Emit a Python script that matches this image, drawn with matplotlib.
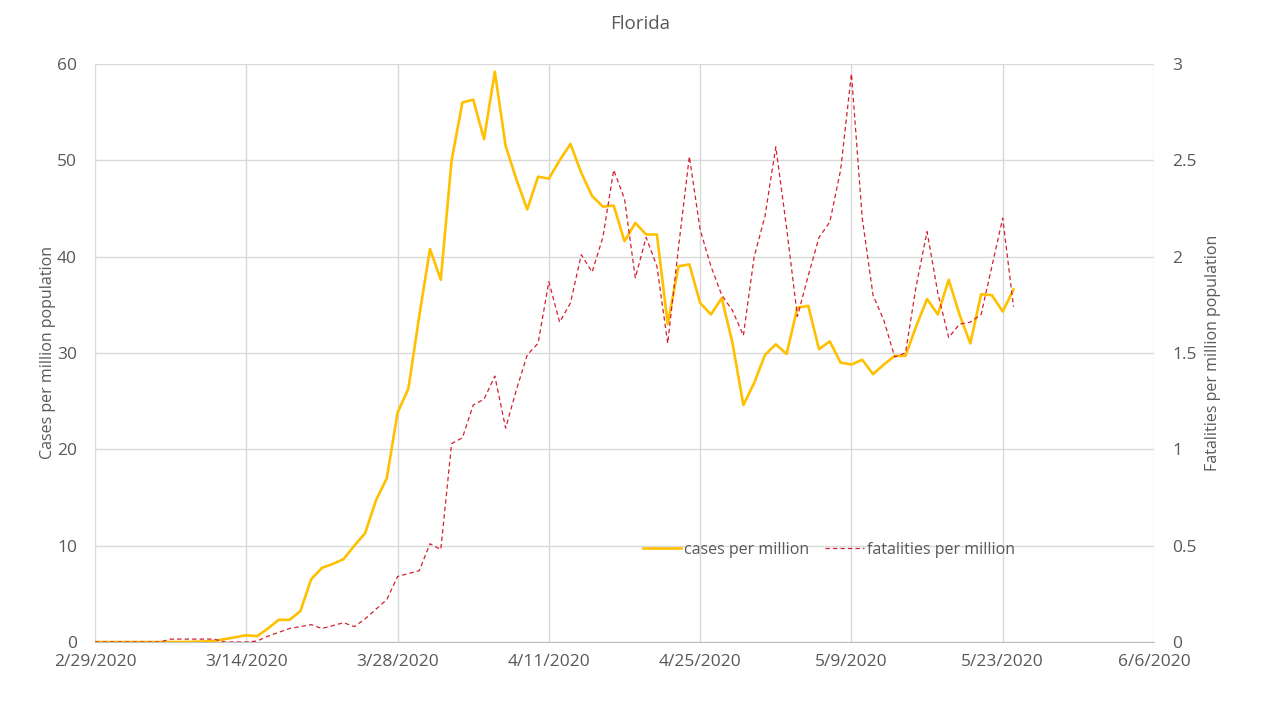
import matplotlib
matplotlib.use("Agg")
import matplotlib.pyplot as plt
import pandas as pd

title = "Florida"
start_date = "2020-02-29"
cases_per_million = [
    0, 0, 0, 0, 0, 0, 0, 0, 0, 0.02,
    0.05, 0.1, 0.3, 0.5, 0.7, 0.6, 1.4, 2.3, 2.3, 3.2,
    6.5, 7.7, 8.1, 8.6, 10.0, 11.3, 14.7, 17.0, 23.8, 26.3,
    33.8, 40.8, 37.6, 50.0, 56.0, 56.3, 52.2, 59.2, 51.5, 48.0,
    44.9, 48.3, 48.1, 50.0, 51.7, 48.7, 46.3, 45.2, 45.3, 41.6,
    43.5, 42.3, 42.3, 33.0, 39.0, 39.2, 35.2, 34.0, 35.7, 31.0,
    24.6, 26.9, 29.8, 30.9, 29.9, 34.7, 34.9, 30.4, 31.2, 29.0,
    28.8, 29.3, 27.8, 28.8, 29.7, 29.7, 32.8, 35.6, 34.0, 37.6,
    34.0, 31.0, 36.1, 36.0, 34.3, 36.6,
]
fatalities_per_million = [
    0, 0, 0, 0, 0, 0, 0, 0.015, 0.015, 0.015,
    0.015, 0.015, 0, 0, 0, 0.005, 0.03, 0.05, 0.07, 0.08,
    0.09, 0.07, 0.085, 0.10, 0.08, 0.12, 0.17, 0.22, 0.34, 0.355,
    0.37, 0.51, 0.48, 1.03, 1.06, 1.23, 1.26, 1.38, 1.11, 1.31,
    1.49, 1.55, 1.87, 1.66, 1.76, 2.01, 1.92, 2.10, 2.45, 2.30,
    1.89, 2.10, 1.95, 1.55, 2.05, 2.52, 2.14, 1.95, 1.80, 1.72,
    1.59, 2.00, 2.21, 2.57, 2.15, 1.69, 1.90, 2.10, 2.18, 2.45,
    2.95, 2.20, 1.80, 1.67, 1.48, 1.50, 1.85, 2.13, 1.81, 1.58,
    1.65, 1.66, 1.70, 1.95, 2.20, 1.74,
]
x_tick_dates = ["2020-02-29", "2020-03-14", "2020-03-28", "2020-04-11",
                "2020-04-25", "2020-05-09", "2020-05-23", "2020-06-06"]
left_ticks = [0, 10, 20, 30, 40, 50, 60]
right_ticks = [0, 0.5, 1, 1.5, 2, 2.5, 3]
right_tick_labels = ["0", "0.5", "1", "1.5", "2", "2.5", "3"]

plt.rcParams['font.family'] = ['Open Sans', 'DejaVu Sans']
text_color = "#595959"
grid_color = "#D9D9D9"

dates = pd.date_range(start_date, periods=len(cases_per_million), freq="D")
tick_dates = pd.to_datetime(x_tick_dates)

fig = plt.figure(figsize=(12.8, 7.2), dpi=100)
ax = fig.add_axes([95 / 1280, 78 / 720, 1059 / 1280, 578 / 720])
ax2 = ax.twinx()

l1, = ax.plot(dates, cases_per_million, color="#FFC000", lw=1.9,
              solid_joinstyle="round", label="cases per million", zorder=3)
l2, = ax2.plot(dates, fatalities_per_million, color="#D42030", lw=0.9,
               linestyle=(0, (3.5, 2.5)), label="fatalities per million", zorder=3)

ax.set_xlim(tick_dates[0], tick_dates[-1])
ax.set_ylim(0, 60)
ax2.set_ylim(0, 3)
ax.set_xticks(tick_dates)
ax.set_xticklabels([f"{d.month}/{d.day}/{d.year}" for d in tick_dates])
ax.set_yticks(left_ticks)
ax2.set_yticks(right_ticks)
ax2.set_yticklabels(right_tick_labels)

ax.grid(True, color=grid_color, lw=1.0)
ax.set_axisbelow(True)
for a in (ax, ax2):
    for s in a.spines.values():
        s.set_visible(False)
    a.tick_params(length=0, colors=text_color, labelsize=12.5)
ax.spines["bottom"].set_visible(True)
ax.spines["bottom"].set_color("#BFBFBF")
ax.tick_params(axis="x", pad=9)
ax.tick_params(axis="y", pad=13)
ax2.tick_params(axis="y", pad=13)

ax.set_ylabel("Cases per million population", color=text_color, fontsize=11.5, labelpad=1)
ax2.set_ylabel("Fatalities per million population", color=text_color, fontsize=11.5, labelpad=6)
fig.text(0.5, 0.966, title, ha="center", va="center", color=text_color, fontsize=13.5)

leg = ax.legend(handles=[l1, l2], loc="center", bbox_to_anchor=(0.693, 0.16),
                ncol=2, frameon=False, fontsize=11.5, handlelength=2.4,
                handletextpad=0.2, columnspacing=1.0)
for t in leg.get_texts():
    t.set_color(text_color)

fig.savefig("out.png", dpi=100, facecolor="white")
